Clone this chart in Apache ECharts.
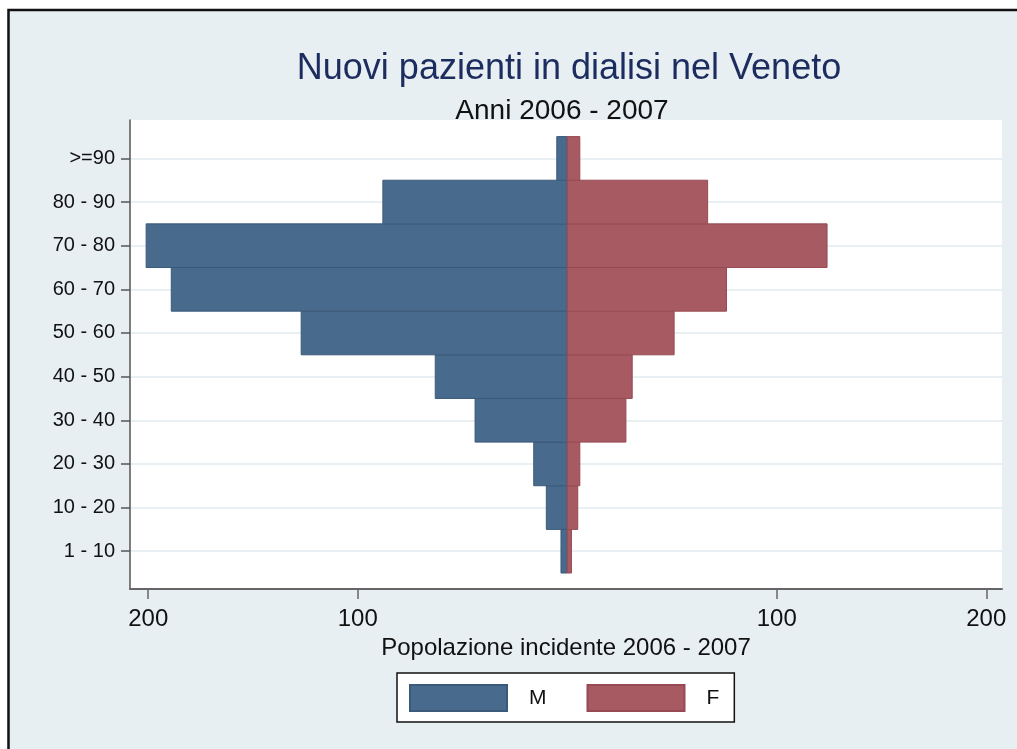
<!DOCTYPE html>
<html>
<head>
<meta charset="utf-8">
<script src="https://cdn.jsdelivr.net/npm/echarts@6/dist/echarts.min.js"></script>
<style>
html,body{margin:0;padding:0;background:#fff;}
#chart{width:1017px;height:749px;}
</style>
</head>
<body>
<div id="chart"></div>
<script>
// fasce d'eta, dal basso verso l'alto
var ageGroups = ['1 - 10','10 - 20','20 - 30','30 - 40','40 - 50','50 - 60','60 - 70','70 - 80','80 - 90','>=90'];
var maleCounts   = [3, 10, 16, 44, 63, 127, 189, 201, 88, 5];
var femaleCounts = [2, 5, 6, 28, 31, 51, 76, 124, 67, 6];
var xTicks = [-200, -100, 100, 200];
var yTicks = [1, 2, 3, 4, 5, 6, 7, 8, 9, 10];

var chart = echarts.init(document.getElementById('chart'));

function renderBar(params, api){
	var v = api.value(0), k = api.value(1);
	var p1 = api.coord([0, k + 0.5]);
	var p2 = api.coord([v, k - 0.5]);
	return {
		type:'rect',
		shape:{
			x:Math.min(p1[0], p2[0]),
			y:p1[1],
			width:Math.abs(p2[0] - p1[0]),
			height:p2[1] - p1[1]
		},
		style:api.style()
	};
}

var font = '"Liberation Sans", Arial, sans-serif';

var option = {
	backgroundColor:'#e7eff3',
	animation:false,
	textStyle:{fontFamily:font},
	graphic:[
		{type:'rect', shape:{x:0, y:0, width:1017, height:9}, style:{fill:'#fff'}},
		{type:'rect', shape:{x:0, y:0, width:7, height:749}, style:{fill:'#fff'}},
		{type:'polyline', shape:{points:[[8.5,749],[8.5,10],[1017,10]]}, style:{stroke:'#111', lineWidth:2.5, fill:null}}
	],
	title:[
		{
			text:'Nuovi pazienti in dialisi nel Veneto',
			left:564, top:46, textAlign:'center',
			textStyle:{fontFamily:font, fontSize:36, fontWeight:'normal', color:'#1d2c5e'}
		},
		{
			text:'Anni 2006 - 2007',
			left:557, top:92, textAlign:'center',
			textStyle:{fontFamily:font, fontSize:28, fontWeight:'normal', color:'#111'}
		}
	],
	legend:{
		data:['M','F'],
		left:397, top:673,
		padding:[11,15,10,12],
		backgroundColor:'#fff',
		borderColor:'#111',
		borderWidth:1.5,
		borderRadius:0,
		icon:'rect',
		itemWidth:97,
		itemHeight:26,
		itemGap:40,
		textStyle:{fontFamily:font, fontSize:21, color:'#111', padding:[0,0,0,17]}
	},
	grid:{
		left:130, right:15, top:120, bottom:160,
		show:true, backgroundColor:'#fff', borderWidth:0
	},
	xAxis:{
		type:'value',
		min:-208.7, max:207.5,
		axisLine:{show:true, onZero:false, lineStyle:{color:'#666', width:2}},
		axisTick:{show:true, customValues:xTicks, length:10, lineStyle:{color:'#666', width:1.5}},
		axisLabel:{customValues:xTicks, margin:18, fontSize:24, color:'#111', fontFamily:font,
			formatter:function(v){return Math.abs(v);}},
		splitLine:{show:false},
		name:'Popolazione incidente 2006 - 2007',
		nameLocation:'middle',
		nameGap:46,
		nameTextStyle:{fontFamily:font, fontSize:24, color:'#111'}
	},
	yAxis:{
		type:'value',
		min:0.134, max:10.88,
		axisLine:{show:true, onZero:false, lineStyle:{color:'#555', width:1.5}},
		axisTick:{show:true, customValues:yTicks, length:9, lineStyle:{color:'#555', width:1.5}},
		axisLabel:{customValues:yTicks, margin:15, fontSize:20, color:'#111', fontFamily:font,
			formatter:function(v){return ageGroups[v - 1];}},
		splitLine:{show:true, lineStyle:{color:'#e1ebf1', width:1.5}}
	},
	series:[
		{
			name:'M',
			type:'custom',
			renderItem:renderBar,
			encode:{x:0, y:1},
			itemStyle:{color:'#486a8c', borderColor:'#3b5a7a', borderWidth:1},
			data:maleCounts.map(function(v, i){return [-v, i + 1];})
		},
		{
			name:'F',
			type:'custom',
			renderItem:renderBar,
			encode:{x:0, y:1},
			itemStyle:{color:'#a75a62', borderColor:'#974a53', borderWidth:1},
			data:femaleCounts.map(function(v, i){return [v, i + 1];})
		}
	]
};
chart.setOption(option);
</script>
</body>
</html>
